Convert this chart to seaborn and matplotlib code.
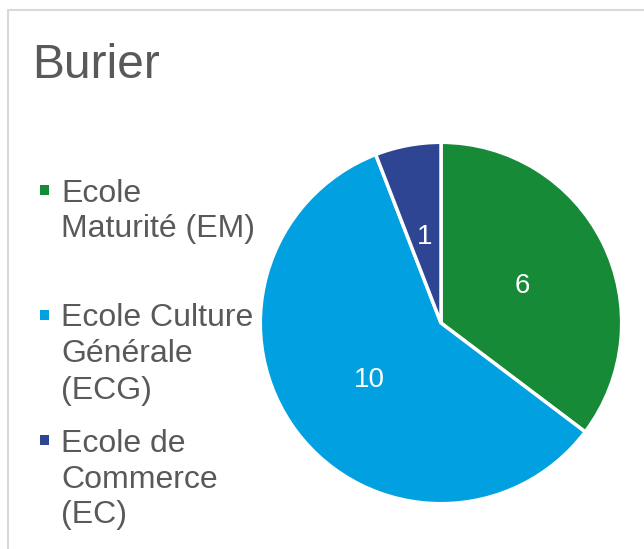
import matplotlib
matplotlib.use("Agg")
import matplotlib.pyplot as plt
from matplotlib.lines import Line2D
from matplotlib.patches import Rectangle
import seaborn as sns

# data
categories = ["Ecole\nMaturité (EM)", "Ecole Culture\nGénérale\n(ECG)", "Ecole de\nCommerce\n(EC)"]
values = [6, 10, 1]
colors = ["#178a38", "#00a0e1", "#2e4593"]
title = "Burier"

sns.set_theme(style="white")
plt.rcParams['font.family'] = ['Liberation Sans', 'DejaVu Sans']

W, H = 644, 549
fig = plt.figure(figsize=(W / 100, H / 100), dpi=100)
fig.patch.set_facecolor("white")

# light grey frame (top and left edges visible)
fig.add_artist(Line2D([7.5 / W, 7.5 / W], [0, 1 - 10 / H], transform=fig.transFigure,
                      color="#d9d9d9", lw=1.5))
fig.add_artist(Line2D([7.5 / W, 1], [1 - 10 / H, 1 - 10 / H], transform=fig.transFigure,
                      color="#d9d9d9", lw=1.5))

fig.text(32 / W, 1 - 60 / H, title, fontsize=34.5, color="#595959", va="center_baseline", ha="left")

# pie
cx, cy, r = 441, 323, 182.5
ax = fig.add_axes([(cx - r) / W, 1 - (cy + r) / H, 2 * r / W, 2 * r / H])
wedges, texts = ax.pie(values, colors=colors, startangle=90, counterclock=False,
                       labels=[str(v) for v in values], labeldistance=0.5,
                       wedgeprops=dict(edgecolor="white", linewidth=2.5),
                       textprops=dict(color="white", fontsize=20, ha="center", va="center_baseline"))
ax.set_xlim(-1.01, 1.01)
ax.set_ylim(-1.01, 1.01)
ax.set_aspect("equal")
ax.axis("off")

# legend drawn by hand so every entry gets the same slot height
line_h = 36
for i, (lab, col) in enumerate(zip(categories, colors)):
    y0 = 190 + i * 125
    fig.add_artist(Rectangle((40 / W, 1 - (y0 + 5) / H), 9 / W, 10 / H,
                             transform=fig.transFigure, facecolor=col, edgecolor="none"))
    for j, line in enumerate(lab.split("\n")):
        fig.text(61 / W, 1 - (y0 + j * line_h) / H, line, fontsize=23, color="#595959",
                 va="center_baseline", ha="left")

fig.savefig("out.png", dpi=100)
